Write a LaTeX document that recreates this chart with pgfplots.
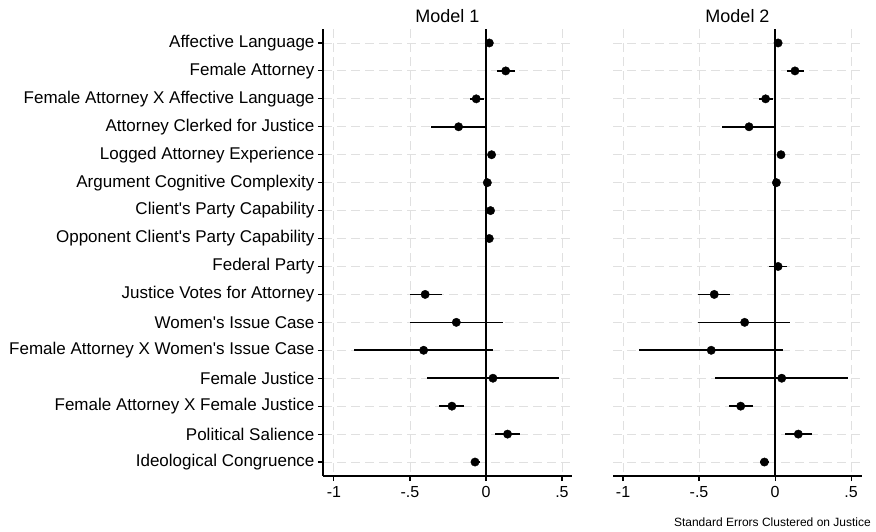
\documentclass[border=0pt]{standalone}
\usepackage{fontspec}
\setmainfont{Liberation Sans}
\usepackage{pgfplots}
\usepackage{pgfplotstable}
\pgfplotsset{compat=1.18}

% row est lo hi
\pgfplotstableread{
row est lo hi
1 0.022 0.012 0.032
2 0.130 0.072 0.188
3 -0.064 -0.108 -0.016
4 -0.180 -0.360 0.000
5 0.037 0.027 0.047
6 0.009 -0.001 0.019
7 0.030 0.018 0.042
8 0.022 0.012 0.032
10 -0.400 -0.500 -0.290
11 -0.195 -0.498 0.110
12 -0.410 -0.870 0.046
13 0.046 -0.390 0.482
14 -0.224 -0.307 -0.145
15 0.142 0.057 0.226
16 -0.072 -0.092 -0.042
}\modelA

\pgfplotstableread{
row est lo hi
1 0.020 0.010 0.030
2 0.131 0.076 0.188
3 -0.062 -0.108 -0.016
4 -0.171 -0.348 0.000
5 0.039 0.029 0.049
6 0.009 -0.001 0.019
9 0.020 -0.042 0.081
10 -0.400 -0.504 -0.294
11 -0.200 -0.506 0.100
12 -0.420 -0.896 0.052
13 0.044 -0.394 0.483
14 -0.226 -0.305 -0.145
15 0.153 0.068 0.243
16 -0.070 -0.099 -0.042
}\modelB

\pgfplotsset{
  coefaxis/.style={
    scale only axis, width=249pt, height=447pt,
    ymin=0.5, ymax=16.5, y dir=reverse,
    ytick={1,...,16},
    xtick={-1,-0.5,0,0.5}, xticklabels={-1,-.5,0,.5},
    axis x line*=bottom, axis y line*=left,
    axis line style={line width=1.3pt, black},
    tick style={black, line width=1.1pt},
    major tick length=5pt, tick align=outside,
    grid=major,
    major grid style={black!12, dash pattern=on 9pt off 5pt, line width=0.9pt},
    xticklabel style={font=\fontsize{16}{19}\selectfont, yshift=-2pt},
    yticklabel style={font=\fontsize{17}{19}\selectfont},
    /pgf/number format/assume math mode=true,
    title style={font=\fontsize{18}{21}\selectfont, at={(0.5,1)}, anchor=base, yshift=1pt},
    clip=false,
  },
  coefplot/.style={only marks, mark=*, mark size=4.2pt, black,
    error bars/.cd, x dir=both, x explicit, error mark=none,
    error bar style={line width=1.7pt, black}},
}

\begin{document}
\begin{tikzpicture}
\path[use as bounding box] (0pt,0pt) rectangle (876pt,-532pt);

\begin{axis}[coefaxis, at={(323pt,-476pt)}, anchor=south west,
  xmin=-1.072, xmax=0.566, title={Model 1},
  yticklabels={Affective Language, Female Attorney, Female Attorney X Affective Language,
    Attorney Clerked for Justice, Logged Attorney Experience, Argument Cognitive Complexity,
    Client\textquotesingle s Party Capability, Opponent Client\textquotesingle s Party Capability,
    Federal Party, Justice Votes for Attorney, Women\textquotesingle s Issue Case,
    Female Attorney X Women\textquotesingle s Issue Case, Female Justice,
    Female Attorney X Female Justice, Political Salience, Ideological Congruence}]
\addplot[black, line width=1.4pt] coordinates {(0,0.5) (0,16.5)};
\addplot[coefplot] table[x=est, y=row,
  x error plus expr=\thisrow{hi}-\thisrow{est},
  x error minus expr=\thisrow{est}-\thisrow{lo}] {\modelA};
\end{axis}

\begin{axis}[coefaxis, at={(613pt,-476pt)}, anchor=south west,
  xmin=-1.066, xmax=0.572, title={Model 2},
  yticklabels={}, y axis line style={draw=none}, ytick style={draw=none}]
\addplot[black, line width=1.4pt] coordinates {(0,0.5) (0,16.5)};
\addplot[coefplot] table[x=est, y=row,
  x error plus expr=\thisrow{hi}-\thisrow{est},
  x error minus expr=\thisrow{est}-\thisrow{lo}] {\modelB};
\end{axis}

\node[anchor=base east, font=\fontsize{12}{14}\selectfont, inner sep=0pt] at (871pt,-526pt) {Standard Errors Clustered on Justice};
\end{tikzpicture}
\end{document}
